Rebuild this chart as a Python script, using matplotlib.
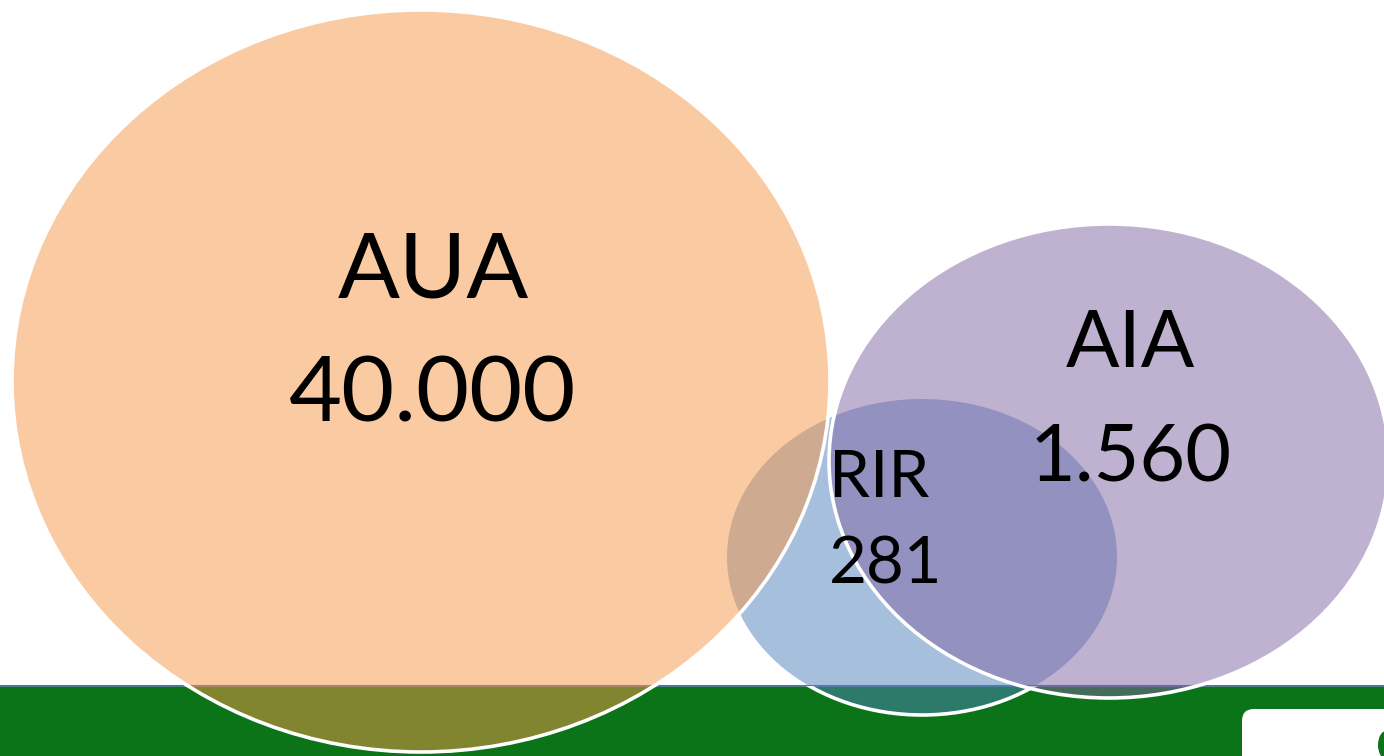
import matplotlib

matplotlib.use("Agg")

import matplotlib.pyplot as plt
from matplotlib.patches import Ellipse, Rectangle, FancyBboxPatch

# data
labels = ["AUA", "AIA", "RIR"]
values = ["40.000", "1.560", "281"]
colors = ["#F79646", "#8064A2", "#4F81BD"]

# layout (pixels, figure is 1384x756)
W, H = 1384, 756
centers = {"AUA": (421, 381), "AIA": (1109, 461), "RIR": (922, 557)}
sizes = {"AUA": (818, 742), "AIA": (560, 474), "RIR": (390, 316)}
text_pos = {
    "AUA": ((433, 297), (433, 422), 66, "center"),
    "AIA": ((1130, 367), (1131, 481), 57, "center"),
    "RIR": ((829, 497), (829, 584), 47, "left"),
}
GREEN = "#0B7418"
BAND_TOP = 686

fig = plt.figure(figsize=(W / 100, H / 100), dpi=100)
ax = fig.add_axes([0, 0, 1, 1])
ax.set_xlim(0, W)
ax.set_ylim(H, 0)
ax.axis("off")

band = Rectangle((0, BAND_TOP), W, H - BAND_TOP, facecolor=GREEN, edgecolor="none", zorder=1)
ax.add_patch(band)
ax.plot([0, W], [BAND_TOP - 0.5, BAND_TOP - 0.5], color="#4E7E8E", lw=1.5, zorder=1.5)

box = FancyBboxPatch((1242, 709), 200, 80, boxstyle="round,pad=0,rounding_size=12",
                     facecolor="white", edgecolor="none", zorder=1.6)
ax.add_patch(box)
ax.add_patch(Ellipse((1386, 745), 16, 28, facecolor=GREEN, edgecolor="none", zorder=1.7))

color_of = dict(zip(labels, colors))
for z, name in enumerate(["RIR", "AUA", "AIA"]):
    w, h = sizes[name]
    fill = Ellipse(centers[name], w, h, facecolor=color_of[name], alpha=0.5,
                   edgecolor="none", zorder=2 + z)
    ax.add_patch(fill)
    edge = Ellipse(centers[name], w, h, facecolor="none", edgecolor="white",
                   lw=2.6, zorder=2 + z + 0.5)
    ax.add_patch(edge)
    if name == "RIR":
        edge.set_clip_path(band)

for name, value in zip(labels, values):
    (x1, y1), (x2, y2), fs, ha = text_pos[name]
    for s, (x, y) in ((name, (x1, y1)), (value, (x2, y2))):
        ax.text(x, y, s, fontsize=fs, ha=ha, va="baseline", color="black",
                family="Lato", zorder=10)

fig.savefig("out.png", dpi=100, facecolor="white")
